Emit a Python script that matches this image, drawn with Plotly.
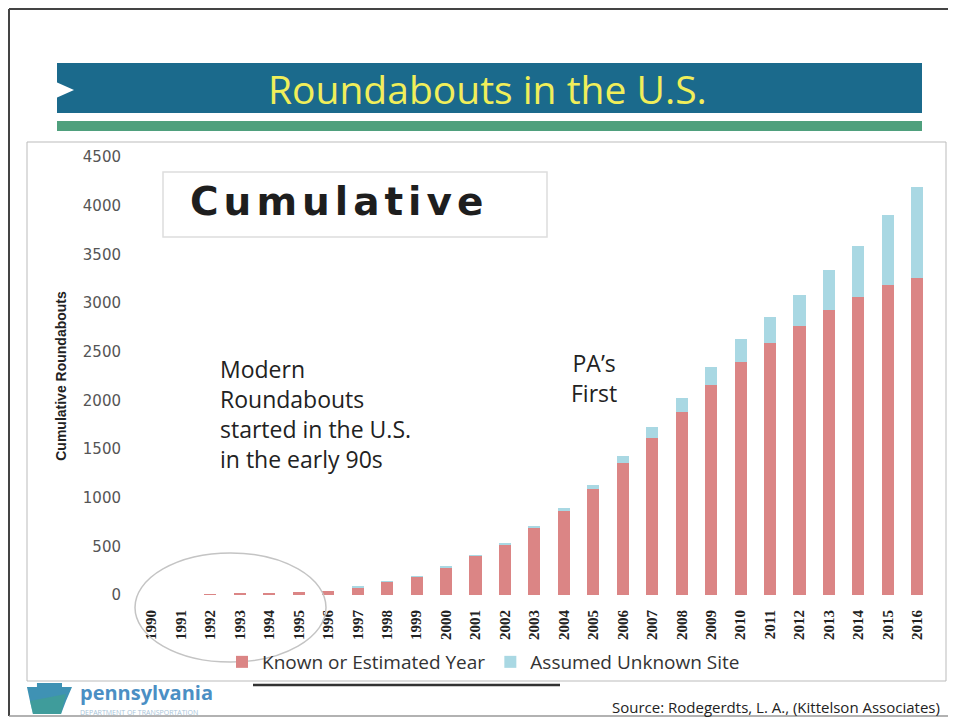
import plotly.graph_objects as go

# data
years = ['1990', '1991', '1992', '1993', '1994', '1995', '1996', '1997', '1998',
         '1999', '2000', '2001', '2002', '2003', '2004', '2005', '2006', '2007',
         '2008', '2009', '2010', '2011', '2012', '2013', '2014', '2015', '2016']
known = [0, 0, 8, 12, 18, 30, 44, 82, 135, 185, 285, 405, 520, 690, 870, 1085,
         1356, 1609, 1883, 2157, 2396, 2591, 2763, 2927, 3064, 3184, 3253]
unknown = [0, 0, 0, 0, 0, 0, 0, 3, 3, 3, 6, 6, 11, 11, 20, 45,
           72, 113, 137, 188, 230, 267, 318, 411, 520, 719, 940]
y_ticks = [0, 500, 1000, 1500, 2000, 2500, 3000, 3500, 4000, 4500]

# page body has an 8px margin; keep the figure inside the window
OFF = 8
W, H = 956 - 2 * OFF, 725 - 2 * OFF
PL, PR, PT, PB = 122, 935, 157, 595  # plot area in window pixels
PW, PH = PR - PL, PB - PT


def px(x):
    return (x - PL) / PW


def py(y):
    return (PB - y) / PH


def path(pts):
    return 'M' + 'L'.join(f'{px(a):.4f},{py(b):.4f}' for a, b in pts) + 'Z'


def hline(x0, x1, y, color, width):
    return dict(type='line', x0=px(x0), x1=px(x1), y0=py(y), y1=py(y),
                line=dict(color=color, width=width))


def vline(x, y0, y1, color, width):
    return dict(type='line', x0=px(x), x1=px(x), y0=py(y0), y1=py(y1),
                line=dict(color=color, width=width))


fig = go.Figure()
fig.add_trace(go.Bar(x=years, y=known, name='Known or Estimated Year',
                     marker=dict(color='#db8585', line_width=0)))
fig.add_trace(go.Bar(x=years, y=unknown, name='Assumed Unknown Site',
                     marker=dict(color='#a9d8e3', line_width=0)))

shapes = [
    # slide border (top, left, bottom)
    hline(9, 948, 9, '#444', 2),
    vline(9, 9, 716, '#444', 2),
    hline(9, 948, 716, '#999', 1.5),
    # title banner
    dict(type='rect', x0=px(57), x1=px(922), y0=py(63), y1=py(113),
         fillcolor='#1b6a8c', line_width=0),
    dict(type='path', path=path([(56, 82), (74, 90), (56, 98)]),
         fillcolor='white', line_width=0),
    dict(type='rect', x0=px(57), x1=px(922), y0=py(121), y1=py(131),
         fillcolor='#4fa07d', line_width=0),
    # chart frame
    dict(type='rect', x0=px(27), x1=px(946), y0=py(142), y1=py(681),
         line=dict(color='#bbbbbb', width=1)),
    # "Cumulative" box
    dict(type='rect', x0=px(163), x1=px(547), y0=py(172), y1=py(237),
         line=dict(color='#dddddd', width=1.5)),
    # circle round the early 90s
    dict(type='circle', x0=px(135), x1=px(326), y0=py(553), y1=py(662),
         line=dict(color='#c4c4c4', width=1.5)),
    # line under legend
    hline(253, 560, 685, '#333', 2.5),
    # keystone logo
    dict(type='path', path=path([(27, 687), (37, 687), (37, 683), (62, 683), (62, 687),
                                 (72, 687), (66, 701), (61, 714), (33, 714), (30, 701)]),
         fillcolor='#3f92b4', line_width=0),
    dict(type='path', path=path([(30, 701), (66, 694), (61, 714), (33, 714)]),
         fillcolor='#3fa38a', opacity=0.6, line_width=0),
]
for s in shapes:
    s.update(xref='paper', yref='paper')

annos = [
    dict(x=px(487), y=py(89), text='Roundabouts in the U.S.',
         font=dict(family='Open Sans', size=39, color='#f0ee5a')),
    dict(x=px(339), y=py(201),
         text='<span style="letter-spacing:5px"><b>Cumulative</b></span>',
         font=dict(family='DejaVu Sans', size=39, color='#1e1e1e')),
    dict(x=px(218), y=py(414), xanchor='left', align='left',
         text='Modern<br>Roundabouts<br>started in the U.S.<br>in the early 90s',
         font=dict(family='Open Sans', size=23, color='#222')),
    dict(x=px(594), y=py(378), text='PA’s<br>First',
         font=dict(family='Open Sans', size=23, color='#222')),
    dict(x=px(942), y=py(707), xanchor='right',
         text='Source: Rodegerdts, L. A., (Kittelson Associates)',
         font=dict(family='Open Sans', size=15, color='#222')),
    dict(x=px(78), y=py(692), xanchor='left', text='<b>pennsylvania</b>',
         font=dict(family='Open Sans', size=20, color='#4b8fc4')),
    dict(x=px(78), y=py(712), xanchor='left', text='DEPARTMENT OF TRANSPORTATION',
         font=dict(family='Open Sans', size=7, color='#a8c4d8')),
]
for a in annos:
    a.setdefault('xanchor', 'center')
    a.update(xref='paper', yref='paper', yanchor='middle', showarrow=False)

fig.update_layout(
    width=W, height=H,
    margin=dict(l=PL - OFF, r=W - (PR - OFF), t=PT - OFF, b=H - (PB - OFF)),
    barmode='stack', bargap=0.59,
    paper_bgcolor='white', plot_bgcolor='rgba(0,0,0,0)',
    shapes=shapes, annotations=annos,
    showlegend=True,
    legend=dict(orientation='h', x=px(222), y=py(662), xanchor='left', yanchor='middle',
                font=dict(family='Open Sans', size=19, color='#333'),
                bgcolor='rgba(0,0,0,0)', traceorder='normal', itemwidth=30),
)
fig.update_xaxes(range=[-1, 26.6], showgrid=False, zeroline=False, showline=False,
                 tickangle=-90, ticks='outside', ticklen=8, tickcolor='rgba(0,0,0,0)',
                 tickfont=dict(family='Liberation Serif', size=15, color='#222', weight='bold'))
fig.update_yaxes(range=[0, 4500], tickvals=y_ticks, showgrid=False, zeroline=False,
                 showline=False,
                 tickfont=dict(family='DejaVu Sans', size=15, color='#555'),
                 title=dict(text='<b>Cumulative Roundabouts</b>', standoff=12,
                            font=dict(family='Liberation Sans', size=14, color='#222')))

fig.write_html('out.html')
